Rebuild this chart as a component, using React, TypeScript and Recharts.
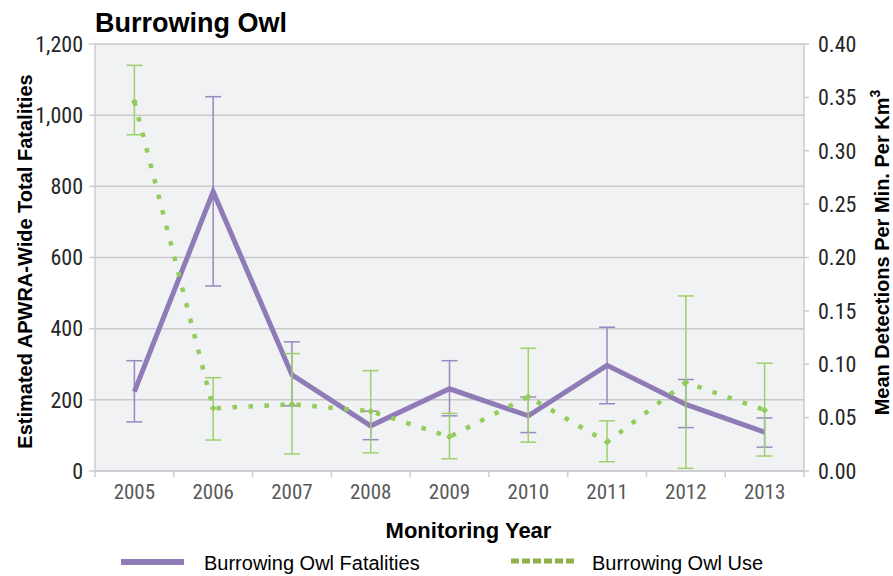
import { ComposedChart, Line, XAxis, YAxis, CartesianGrid, ErrorBar } from 'recharts';

const YEARS = ['2005', '2006', '2007', '2008', '2009', '2010', '2011', '2012', '2013'];
const FATALITIES = [223, 785, 270, 127, 231, 155, 297, 187, 109];
const FATALITIES_LOW = [138, 520, 183, 88, 155, 108, 189, 122, 67];
const FATALITIES_HIGH = [310, 1052, 363, 168, 310, 208, 404, 257, 149];
const USE = [0.346, 0.0587, 0.0625, 0.056, 0.032, 0.0696, 0.027, 0.083, 0.057];
const USE_LOW = [0.315, 0.029, 0.016, 0.017, 0.0115, 0.027, 0.0087, 0.0025, 0.014];
const USE_HIGH = [0.38, 0.0874, 0.11, 0.094, 0.054, 0.115, 0.047, 0.164, 0.101];
const LEFT_TICKS = [0, 200, 400, 600, 800, 1000, 1200];
const RIGHT_TICKS = [0, 0.05, 0.1, 0.15, 0.2, 0.25, 0.3, 0.35, 0.4];
const YEAR_EDGES = [0, 1, 2, 3, 4, 5, 6, 7, 8, 9];

const PURPLE = '#8f7bb6';
const PURPLE_BAR = '#9a87c1';
const GREEN = '#94cc5c';
const GREEN_BAR = '#9fd06c';
const GREEN_LEGEND = '#8fb04a';
const AXIS = '#cdcdd0';
const NARROW = "'Liberation Sans Narrow', 'Arial Narrow', 'Roboto Condensed', 'DejaVu Sans Condensed', sans-serif";
const SANS = "'Liberation Sans', Arial, sans-serif";

const data = YEARS.map((year, i) => ({
  pos: i + 0.5,
  year,
  fatalities: FATALITIES[i],
  fatalitiesErr: [FATALITIES[i] - FATALITIES_LOW[i], FATALITIES_HIGH[i] - FATALITIES[i]],
  use: USE[i],
  useErr: [USE[i] - USE_LOW[i], USE_HIGH[i] - USE[i]],
}));

function YearTick({ x, y, payload, width }: any) {
  const label = YEARS[payload.value];
  if (!label) return null;
  const half = (width ?? 709) / YEARS.length / 2;
  return (
    <text x={x + half} y={y} dy={18} textAnchor="middle" fill="#595959" fontSize={21} fontFamily={NARROW}>
      {label}
    </text>
  );
}

function Diamond({ cx, cy }: any) {
  if (cx == null || cy == null) return null;
  const r = 3.5;
  return <path d={`M${cx},${cy - r}L${cx + r},${cy}L${cx},${cy + r}L${cx - r},${cy}Z`} fill={GREEN} />;
}

function LeftTitle({ viewBox }: any) {
  const cx = viewBox.x + 25;
  const cy = viewBox.y + viewBox.height / 2 + 4;
  return (
    <text x={cx} y={cy} transform={`rotate(-90 ${cx} ${cy})`} textAnchor="middle" dominantBaseline="central"
      fontFamily={SANS} fontWeight="bold" fontSize={20} fill="#000">
      Estimated APWRA-Wide Total Fatalities
    </text>
  );
}

function RightTitle({ viewBox }: any) {
  const cx = viewBox.x + 78;
  const cy = viewBox.y + viewBox.height / 2 - 5;
  return (
    <text x={cx} y={cy} transform={`rotate(-90 ${cx} ${cy})`} textAnchor="middle" dominantBaseline="central"
      fontFamily={SANS} fontWeight="bold" fontSize={20} fill="#000">
      Mean Detections Per Min. Per Km<tspan dy={-7} fontSize={14}>3</tspan>
    </text>
  );
}

function BottomTitle({ viewBox }: any) {
  const cx = viewBox.x + viewBox.width / 2 + 19;
  return (
    <text x={cx} y={538} textAnchor="middle" fontFamily={SANS} fontWeight="bold" fontSize={22} fill="#000">
      Monitoring Year
    </text>
  );
}

export default function App() {
  return (
    <div style={{ position: 'absolute', left: 0, top: 0, width: 893, height: 576, background: '#fff' }}>
      <ComposedChart width={893} height={576} data={data} margin={{ top: 44, right: 0, bottom: 65, left: 0 }}>
        <CartesianGrid yAxisId="left" vertical={false} stroke="#c9c9cc" strokeWidth={1.5} fill="#f1f2f4" />
        <XAxis
          dataKey="pos"
          type="number"
          domain={[0, 9]}
          ticks={YEAR_EDGES}
          interval={0}
          height={40}
          tick={<YearTick />}
          tickSize={6}
          tickMargin={4}
          axisLine={{ stroke: AXIS, strokeWidth: 1.5 }}
          tickLine={{ stroke: AXIS, strokeWidth: 1.5 }}
          label={<BottomTitle />}
        />
        <YAxis
          yAxisId="left"
          width={95}
          domain={[0, 1200]}
          ticks={LEFT_TICKS}
          interval={0}
          tickFormatter={(v) => v.toLocaleString('en-US')}
          tick={{ fill: '#262626', fontSize: 22, fontFamily: NARROW }}
          tickSize={6}
          tickMargin={6}
          axisLine={{ stroke: AXIS, strokeWidth: 1.5 }}
          tickLine={{ stroke: AXIS, strokeWidth: 1.5 }}
          label={<LeftTitle />}
        />
        <YAxis
          yAxisId="right"
          orientation="right"
          width={89}
          domain={[0, 0.4]}
          ticks={RIGHT_TICKS}
          interval={0}
          tickFormatter={(v) => v.toFixed(2)}
          tick={{ fill: '#262626', fontSize: 22, fontFamily: NARROW }}
          tickSize={5}
          tickMargin={9}
          axisLine={{ stroke: AXIS, strokeWidth: 1.5 }}
          tickLine={{ stroke: AXIS, strokeWidth: 1.5 }}
          label={<RightTitle />}
        />
        <Line
          yAxisId="left"
          type="linear"
          dataKey="fatalities"
          stroke={PURPLE}
          strokeWidth={5}
          dot={false}
          activeDot={false}
          isAnimationActive={false}
        >
          <ErrorBar dataKey="fatalitiesErr" direction="y" width={8} stroke={PURPLE_BAR} strokeWidth={1.5} />
        </Line>
        <Line
          yAxisId="right"
          type="linear"
          dataKey="use"
          stroke={GREEN}
          strokeWidth={4.5}
          strokeDasharray="4.5 11.5"
          dot={(p: any) => <Diamond key={p.index} {...p} />}
          activeDot={false}
          isAnimationActive={false}
        >
          <ErrorBar dataKey="useErr" direction="y" width={8} stroke={GREEN_BAR} strokeWidth={1.5} />
        </Line>
      </ComposedChart>
      <svg width={893} height={576} style={{ position: 'absolute', left: 0, top: 0, pointerEvents: 'none' }}>
        <text x={95} y={32} fontFamily={SANS} fontWeight="bold" fontSize={27} fill="#000">Burrowing Owl</text>
        <line x1={121} y1={562} x2={184} y2={562} stroke={PURPLE} strokeWidth={6} />
        <text x={204} y={570} fontFamily={SANS} fontSize={20} fill="#000">Burrowing Owl Fatalities</text>
        <line x1={511} y1={561} x2={575} y2={561} stroke={GREEN_LEGEND} strokeWidth={5} strokeDasharray="8 3" />
        <text x={592} y={570} fontFamily={SANS} fontSize={20} fill="#000">Burrowing Owl Use</text>
      </svg>
    </div>
  );
}
